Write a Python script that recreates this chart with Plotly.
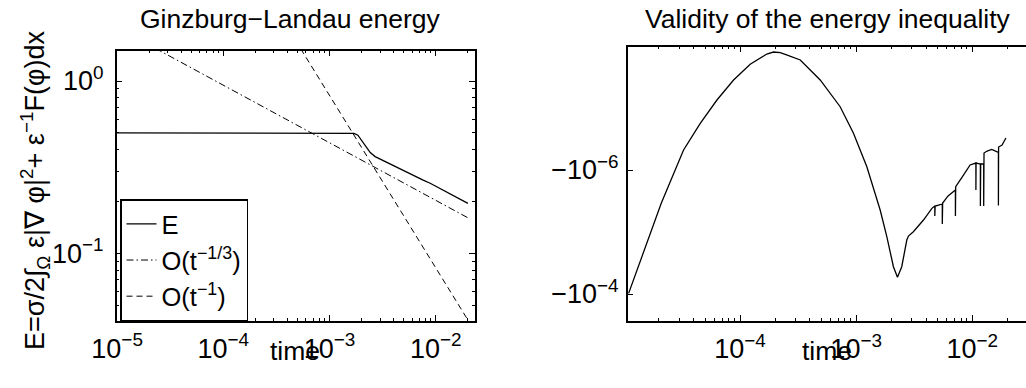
import plotly.graph_objects as go

# ---------------- data ----------------
# Left panel: Ginzburg-Landau energy
energy_time = [1.0e-5, 1.55e-3, 1.70e-3, 1.85e-3, 1.94e-3, 2.17e-3, 2.42e-3, 2.69e-3,
               4.32e-3, 7.62e-3, 8.87e-3, 1.70e-2, 2.01e-2]
energy_value = [0.50, 0.50, 0.497, 0.485, 0.465, 0.420, 0.384, 0.364,
                0.314, 0.266, 0.255, 0.206, 0.195]

ref_time = [1.0e-5, 2.0e-2]
ref_third = [2.04, 0.161]      # O(t^-1/3)
ref_one = [82.4, 0.0412]       # O(t^-1)

# Right panel: validity of the energy inequality (all values negative)
ineq_time = [1.096e-5, 2.094e-5, 3.26e-5, 4.54e-5, 6.32e-5, 8.79e-5, 1.223e-4, 1.70e-4,
             1.94e-4, 2.22e-4, 2.55e-4, 3.30e-4, 4.90e-4, 7.28e-4, 9.48e-4, 1.236e-3,
             1.61e-3, 1.837e-3, 2.094e-3, 2.27e-3, 2.47e-3, 2.73e-3, 2.82e-3, 3.11e-3,
             3.80e-3, 4.49e-3, 4.76e-3, 4.76e-3, 4.79e-3, 5.13e-3, 5.52e-3, 5.52e-3,
             5.56e-3, 6.19e-3, 7.16e-3, 7.16e-3, 7.20e-3, 8.18e-3, 9.58e-3, 1.075e-2,
             1.075e-2, 1.079e-2, 1.175e-2, 1.175e-2, 1.182e-2, 1.255e-2, 1.255e-2,
             1.263e-2, 1.343e-2, 1.473e-2, 1.680e-2, 1.680e-2, 1.686e-2, 1.807e-2, 1.949e-2]
ineq_value = [-9.75e-5, -3.44e-6, -4.75e-7, -1.765e-7, -7.43e-8, -3.53e-8, -1.97e-8, -1.346e-8,
              -1.25e-8, -1.28e-8, -1.40e-8, -1.68e-8, -3.53e-8, -9.53e-8, -2.56e-7, -8.85e-7,
              -4.42e-6, -1.19e-5, -3.63e-5, -5.38e-5, -3.63e-5, -1.345e-5, -1.16e-5, -9.89e-6,
              -6.40e-6, -4.15e-6, -3.81e-6, -5.52e-6, -3.81e-6, -3.67e-6, -3.53e-6, -7.43e-6,
              -3.40e-6, -2.62e-6, -2.10e-6, -5.52e-6, -1.86e-6, -1.30e-6, -8.30e-7, -7.71e-7,
              -2.10e-6, -7.71e-7, -8.00e-7, -3.81e-6, -8.00e-7, -8.00e-7, -3.81e-6,
              -5.32e-7, -4.94e-7, -4.64e-7, -5.22e-7, -3.74e-6, -4.26e-7, -3.95e-7, -3.05e-7]

left_xticks = [1e-5, 1e-4, 1e-3, 1e-2]
left_xtext = ["10<sup>−5</sup>", "10<sup>−4</sup>", "10<sup>−3</sup>", "10<sup>−2</sup>"]
left_yticks = [0.1, 1.0]
left_ytext = ["10<sup>−1</sup>", "10<sup>0</sup>"]
right_xticks = [1e-4, 1e-3, 1e-2]
right_xtext = ["10<sup>−4</sup>", "10<sup>−3</sup>", "10<sup>−2</sup>"]
right_yticks = [1e-6, 1e-4]
right_ytext = ["−10<sup>−6</sup>", "−10<sup>−4</sup>"]

FONT = "Liberation Sans, Arial, Helvetica, sans-serif"
W, H = 1026, 388
TXT = 26.5

fig = go.Figure()
fig.add_trace(go.Scatter(x=energy_time, y=energy_value, mode="lines", name="E<sup>\u00a0</sup>",
                         line=dict(color="black", width=1.3), xaxis="x", yaxis="y"))
fig.add_trace(go.Scatter(x=ref_time, y=ref_third, mode="lines", name="O(t<sup>−1/3</sup>)",
                         line=dict(color="black", width=1, dash="7px,3px,1.5px,3px"),
                         xaxis="x", yaxis="y"))
fig.add_trace(go.Scatter(x=ref_time, y=ref_one, mode="lines", name="O(t<sup>−1</sup>)",
                         line=dict(color="black", width=1, dash="6px,4px"),
                         xaxis="x", yaxis="y"))
fig.add_trace(go.Scatter(x=ineq_time, y=[-v for v in ineq_value], mode="lines",
                         showlegend=False, line=dict(color="black", width=1.3),
                         xaxis="x2", yaxis="y2"))


def axis_common(with_minor=True):
    d = dict(type="log", showgrid=False, zeroline=False, showline=True,
             linecolor="black", linewidth=1.5, ticks="inside", ticklen=6,
             tickcolor="black", tickwidth=1, automargin=False,
             tickfont=dict(family=FONT, size=27, color="black"))
    if with_minor:
        d["minor"] = dict(dtick="D1", ticks="inside", ticklen=3, tickcolor="black",
                          tickwidth=1, showgrid=False)
    return d


xa = axis_common()
xa.update(domain=[116.7 / W, 475 / W], range=[-5.004, -1.63], mirror="ticks",
          tickmode="array", tickvals=left_xticks, ticktext=left_xtext, anchor="y",
          ticklabelstandoff=3)
ya = axis_common()
ya.update(domain=[(H - 320.5) / H, (H - 50.5) / H], range=[-1.390, 0.177], mirror="ticks",
          tickmode="array", tickvals=left_yticks, ticktext=left_ytext, anchor="x",
          ticklabelstandoff=6)
xa2 = axis_common()
xa2.update(domain=[627.7 / W, 1.0], range=[-4.968, -1.537], mirror="ticks",
           tickmode="array", tickvals=right_xticks, ticktext=right_xtext, anchor="y2",
           ticklabelstandoff=3)
ya2 = axis_common(with_minor=False)
ya2.update(domain=[(H - 321) / H, (H - 46.7) / H], range=[-3.565, -7.989], mirror=False,
           tickmode="array", tickvals=right_yticks, ticktext=right_ytext, anchor="x2",
           ticklabelstandoff=2)

anns = [
    dict(text="Ginzburg−Landau energy", x=290 / W, y=(H - 19) / H, xref="paper", yref="paper",
         xanchor="center", yanchor="middle", showarrow=False,
         font=dict(family=FONT, size=TXT, color="black")),
    dict(text="Validity of the energy inequality", x=827.5 / W, y=(H - 19) / H,
         xref="paper", yref="paper", xanchor="center", yanchor="middle", showarrow=False,
         font=dict(family=FONT, size=TXT, color="black")),
    dict(text="time", x=295 / W, y=(H - 351) / H, xref="paper", yref="paper",
         xanchor="center", yanchor="middle", showarrow=False,
         font=dict(family=FONT, size=TXT, color="black")),
    dict(text="time", x=826.7 / W, y=(H - 351) / H, xref="paper", yref="paper",
         xanchor="center", yanchor="middle", showarrow=False,
         font=dict(family=FONT, size=TXT, color="black")),
    dict(text="E=σ/2∫<sub>Ω</sub> ε|∇ φ|<sup>2</sup>+ ε<sup>−1</sup>F(φ)dx",
         x=35 / W, y=(H - 191) / H, xref="paper", yref="paper", textangle=-90,
         xanchor="center", yanchor="middle", showarrow=False,
         font=dict(family=FONT, size=27, color="black")),
]

fig.update_layout(
    width=W, height=H, margin=dict(l=0, r=0, t=0, b=0),
    paper_bgcolor="white", plot_bgcolor="white",
    xaxis=xa, yaxis=ya, xaxis2=xa2, yaxis2=ya2,
    annotations=anns,
    showlegend=True,
    legend=dict(x=120 / W, y=(H - 199.3) / H, xanchor="left", yanchor="top",
                bgcolor="white", bordercolor="black", borderwidth=1.5,
                font=dict(family=FONT, size=25.5, color="black"),
                tracegroupgap=0, itemwidth=30),
)

fig.write_html("out.html", config={"displayModeBar": False},
               post_script="document.body.style.margin='0';")
